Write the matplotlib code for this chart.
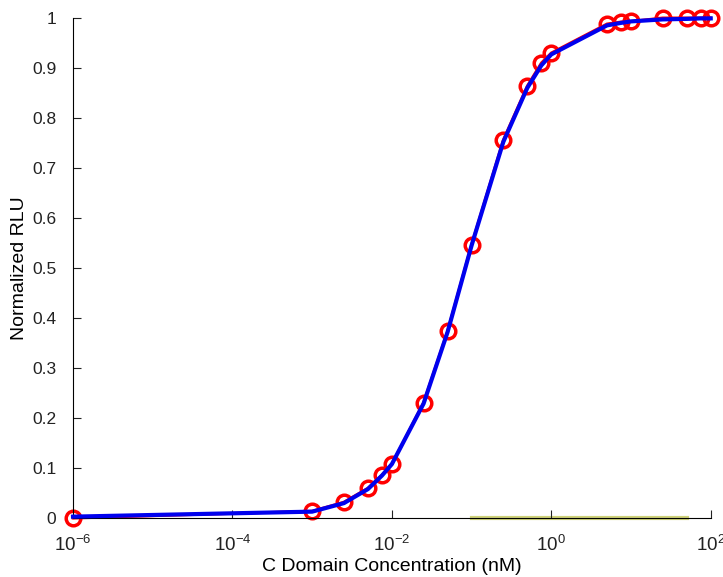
import numpy as np
import matplotlib.pyplot as plt

plt.rcParams['font.family'] = ['Liberation Sans', 'DejaVu Sans']
plt.rcParams['mathtext.fontset'] = 'custom'
plt.rcParams['mathtext.rm'] = 'Liberation Sans'
plt.rcParams['mathtext.it'] = 'Liberation Sans'

# concentration (nM) and normalized response
conc = [1e-6, 1e-3, 2.5e-3, 5e-3, 7.5e-3, 1e-2, 2.5e-2, 5e-2, 1e-1, 2.5e-1,
        5e-1, 7.5e-1, 1.0, 5.0, 7.5, 10.0, 25.0, 50.0, 75.0, 100.0]
rlu = [0.0, 0.014, 0.032, 0.06, 0.086, 0.108, 0.231, 0.374, 0.547, 0.756,
       0.864, 0.91, 0.93, 0.988, 0.992, 0.993, 1.0, 1.0, 1.0, 1.0]
fit = [0.003, 0.013, 0.03, 0.058, 0.085, 0.108, 0.229, 0.372, 0.545, 0.752,
       0.86, 0.905, 0.927, 0.985, 0.99, 0.993, 0.997, 0.998, 0.999, 0.999]
base_x = [0.1, 50.0]
base_y = [0.0, 0.0]

fig = plt.figure(figsize=(7.23, 5.77), dpi=100)
ax = fig.add_axes([0.101, 0.102, 0.882, 0.867])

ax.plot(base_x, base_y, color='#cfd27a', linewidth=3, zorder=1, clip_on=False)
ax.plot(conc, rlu, color='red', linewidth=2, marker='o', markersize=10.5,
        markerfacecolor='none', markeredgewidth=2.5, clip_on=False, zorder=2)
ax.plot(conc, fit, color='#0000ee', linewidth=3, clip_on=False, zorder=3)

ax.set_xscale('log')
ax.set_xlim(1e-6, 1e2)
ax.set_ylim(0, 1)
ax.set_xticks([1e-6, 1e-4, 1e-2, 1e0, 1e2])
ax.minorticks_off()
ax.set_yticks(np.arange(0, 1.01, 0.1))
ax.set_yticklabels(['0', '0.1', '0.2', '0.3', '0.4', '0.5', '0.6', '0.7', '0.8', '0.9', '1'])

for s in ['top', 'right']:
    ax.spines[s].set_visible(False)
ax.tick_params(direction='in', length=6, labelsize=12.5, colors='#222222')
ax.tick_params(axis='x', pad=12, labelsize=13.5)
ax.tick_params(axis='y', pad=12)

ax.set_xlabel('C Domain Concentration (nM)', fontsize=14, labelpad=2)
ax.set_ylabel('Normalized RLU', fontsize=14, labelpad=3)

fig.savefig('out.png', dpi=100)
